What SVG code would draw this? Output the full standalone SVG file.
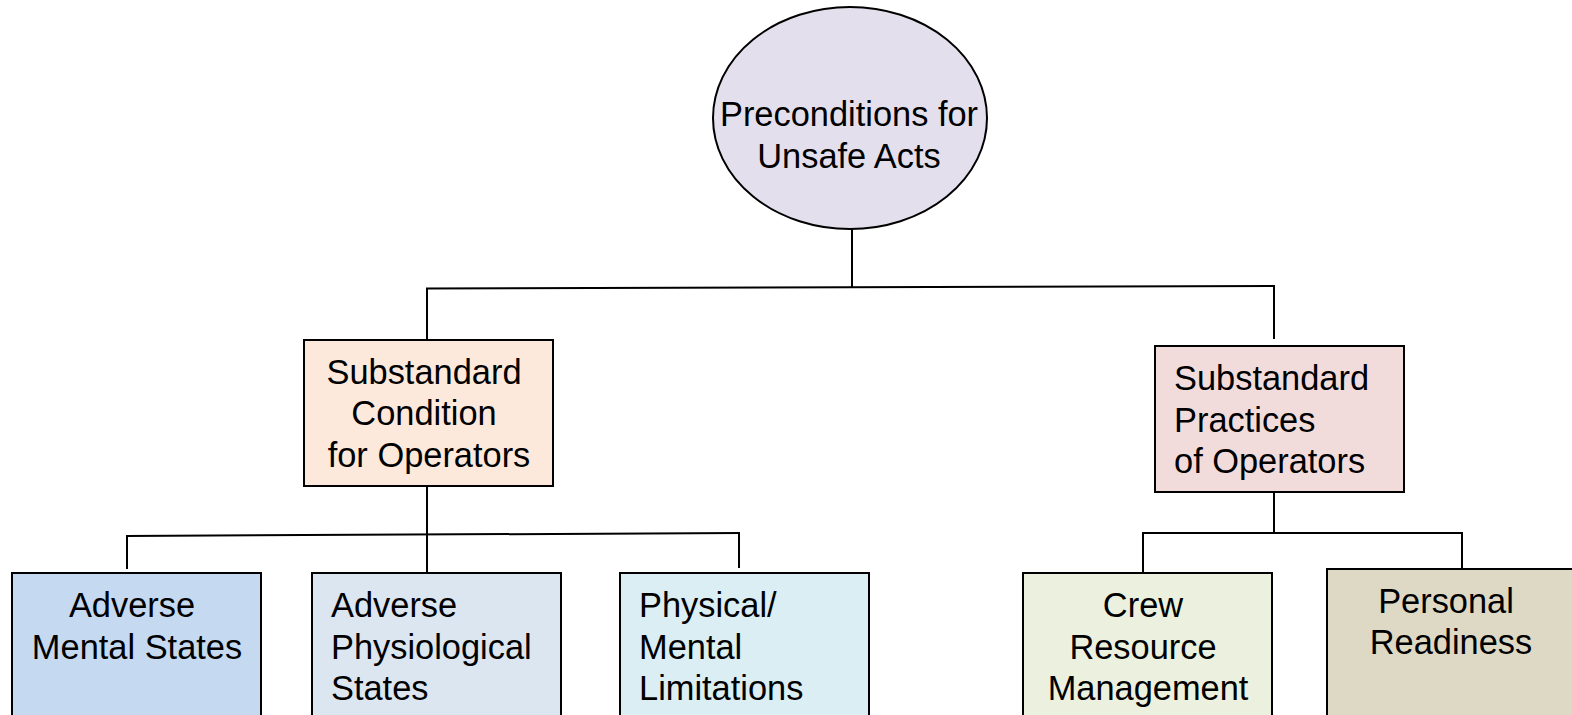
<svg xmlns="http://www.w3.org/2000/svg" width="1572" height="715" viewBox="0 0 1572 715">
  <style>
    .node { stroke: #000; stroke-width: 2; }
    .lbl { font-family: "Liberation Sans", Arial, sans-serif; font-size: 34.4px; fill: #000; }
    .mid { text-anchor: middle; }
    .conn line { stroke: #000; stroke-width: 2; }
  </style>
  <rect width="1572" height="715" fill="#fff"/>

  <!-- connectors -->
  <g class="conn">
    <line x1="852" y1="229" x2="852" y2="287"/>
    <line x1="426" y1="288.5" x2="1275" y2="286"/>
    <line x1="427" y1="288" x2="427" y2="340"/>
    <line x1="1274" y1="286" x2="1274" y2="339"/>
    <line x1="427" y1="486" x2="427" y2="573"/>
    <line x1="126" y1="536" x2="740" y2="533"/>
    <line x1="127" y1="535" x2="127" y2="569"/>
    <line x1="739" y1="533" x2="739" y2="568"/>
    <line x1="1274" y1="492" x2="1274" y2="533"/>
    <line x1="1142" y1="533" x2="1463" y2="533"/>
    <line x1="1143" y1="533" x2="1143" y2="572"/>
    <line x1="1462" y1="533" x2="1462" y2="568"/>
  </g>

  <g id="preconditions">
    <ellipse class="node" cx="850" cy="118" rx="137" ry="111" fill="#e4dfec"/>
    <text class="lbl mid" x="849" y="126">Preconditions for</text>
    <text class="lbl mid" x="849" y="168">Unsafe Acts</text>
  </g>

  <g id="substandard-condition">
    <rect class="node" x="304" y="340" width="249" height="146" fill="#fde9db"/>
    <text class="lbl mid" x="424" y="384">Substandard</text>
    <text class="lbl mid" x="424" y="425">Condition</text>
    <text class="lbl mid" x="429" y="467">for Operators</text>
  </g>

  <g id="substandard-practices">
    <rect class="node" x="1155" y="346" width="249" height="146" fill="#f2dcdb"/>
    <text class="lbl" x="1174" y="390">Substandard</text>
    <text class="lbl" x="1174" y="432">Practices</text>
    <text class="lbl" x="1174" y="473">of Operators</text>
  </g>

  <g id="adverse-mental">
    <rect class="node" x="12" y="573" width="249" height="160" fill="#c5d9f1"/>
    <text class="lbl mid" x="132" y="617">Adverse</text>
    <text class="lbl mid" x="137" y="659">Mental States</text>
  </g>

  <g id="adverse-physiological">
    <rect class="node" x="312" y="573" width="249" height="160" fill="#dce6f1"/>
    <text class="lbl" x="331" y="617">Adverse</text>
    <text class="lbl" x="331" y="659">Physiological</text>
    <text class="lbl" x="331" y="700">States</text>
  </g>

  <g id="physical-mental">
    <rect class="node" x="620" y="573" width="249" height="160" fill="#daeef3"/>
    <text class="lbl" x="639" y="617">Physical/</text>
    <text class="lbl" x="639" y="659">Mental</text>
    <text class="lbl" x="639" y="700">Limitations</text>
  </g>

  <g id="crew-resource">
    <rect class="node" x="1023" y="573" width="249" height="160" fill="#ebf1de"/>
    <text class="lbl mid" x="1143" y="617">Crew</text>
    <text class="lbl mid" x="1143" y="659">Resource</text>
    <text class="lbl mid" x="1148" y="700">Management</text>
  </g>

  <g id="personal-readiness">
    <rect class="node" x="1327" y="569" width="260" height="160" fill="#ddd9c4"/>
    <text class="lbl mid" x="1446" y="613">Personal</text>
    <text class="lbl mid" x="1451" y="654">Readiness</text>
  </g>
</svg>
